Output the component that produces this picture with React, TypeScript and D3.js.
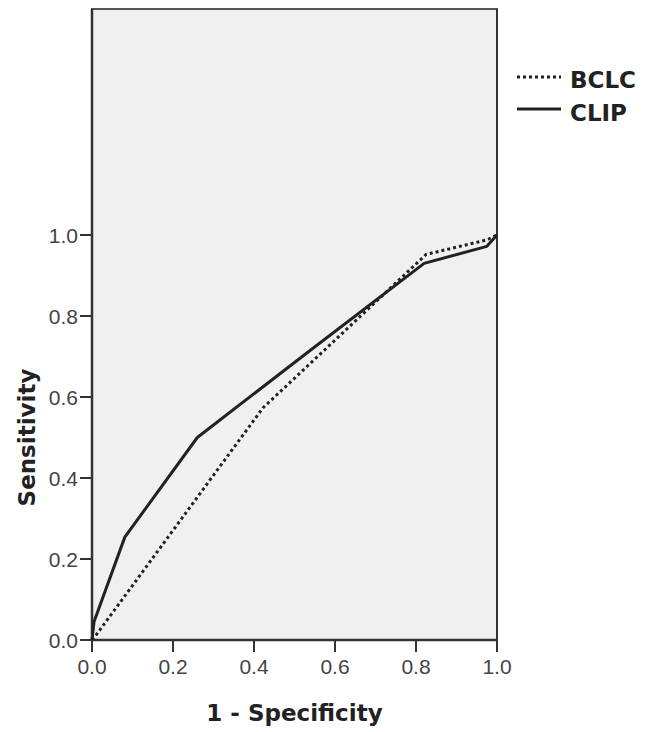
import React from "react";
import * as d3 from "d3";

const xTicks = [0, 0.2, 0.4, 0.6, 0.8, 1.0];
const yTicks = [0, 0.2, 0.4, 0.6, 0.8, 1.0];

const bclcFpr = [0, 0.01, 0.422, 0.825, 0.975, 1.0];
const bclcTpr = [0, 0.012, 0.573, 0.952, 0.988, 1.0];

const clipFpr = [0, 0.005, 0.081, 0.26, 0.54, 0.82, 0.975, 1.0];
const clipTpr = [0, 0.045, 0.254, 0.5, 0.716, 0.93, 0.972, 1.0];

const seriesNames = ["BCLC", "CLIP"];

const W = 650;
const H = 732;
const plotLeft = 92;
const plotRight = 497;
const plotTop = 9;
const plotBottom = 640;

export default function App() {
  const x = d3.scaleLinear().domain([0, 1]).range([plotLeft, plotRight]);
  const y = d3.scaleLinear().domain([0, 1]).range([plotBottom, 235]);
  const line = d3
    .line<[number, number]>()
    .x((d) => x(d[0]))
    .y((d) => y(d[1]));
  const bclc = bclcFpr.map((v, i) => [v, bclcTpr[i]] as [number, number]);
  const clip = clipFpr.map((v, i) => [v, clipTpr[i]] as [number, number]);
  const tickFont = "'Liberation Sans', Arial, sans-serif";
  const boldFont = "'DejaVu Sans', Verdana, sans-serif";
  return (
    <svg
      width={W}
      height={H}
      style={{ position: "absolute", left: 0, top: 0, background: "#fff" }}
    >
      <rect
        x={plotLeft}
        y={plotTop}
        width={plotRight - plotLeft}
        height={plotBottom - plotTop}
        fill="#f0f0f0"
        stroke="#555"
        strokeWidth={2}
      />
      <line x1={plotRight} x2={plotRight} y1={plotTop} y2={plotBottom} stroke="#333" strokeWidth={2} />
      <line x1={plotLeft} x2={plotLeft} y1={plotTop} y2={plotBottom} stroke="#333" strokeWidth={2.5} />
      <line x1={plotLeft} x2={plotRight} y1={plotBottom} y2={plotBottom} stroke="#333" strokeWidth={2.5} />
      {xTicks.map((t) => (
        <g key={"x" + t}>
          <line x1={x(t)} x2={x(t)} y1={plotBottom} y2={plotBottom + 12} stroke="#333" strokeWidth={2} />
          <text
            x={x(t)}
            y={plotBottom + 34}
            textAnchor="middle"
            fontFamily={tickFont}
            fontSize={21}
            fill="#444"
          >
            {t.toFixed(1)}
          </text>
        </g>
      ))}
      {yTicks.map((t) => (
        <g key={"y" + t}>
          <line x1={plotLeft - 12} x2={plotLeft} y1={y(t)} y2={y(t)} stroke="#333" strokeWidth={2} />
          <text
            x={plotLeft - 14}
            y={y(t) + 7.5}
            textAnchor="end"
            fontFamily={tickFont}
            fontSize={21}
            fill="#444"
          >
            {t.toFixed(1)}
          </text>
        </g>
      ))}
      <path d={line(bclc) || ""} fill="none" stroke="#222" strokeWidth={3} strokeDasharray="3,3" />
      <path d={line(clip) || ""} fill="none" stroke="#222" strokeWidth={3} strokeLinejoin="round" />
      <text
        x={(plotLeft + plotRight) / 2}
        y={721}
        textAnchor="middle"
        fontFamily={boldFont}
        fontWeight="bold"
        fontSize={23}
        fill="#222"
      >
        1 - Specificity
      </text>
      <text
        transform={`translate(35, ${(y(0) + y(1)) / 2}) rotate(-90)`}
        textAnchor="middle"
        fontFamily={boldFont}
        fontWeight="bold"
        fontSize={23}
        fill="#222"
      >
        Sensitivity
      </text>
      <g>
        <line x1={517} x2={561} y1={77} y2={77} stroke="#222" strokeWidth={3} strokeDasharray="3,3" />
        <text x={570} y={88} fontFamily={boldFont} fontWeight="bold" fontSize={23} fill="#222">
          {seriesNames[0]}
        </text>
        <line x1={517} x2={561} y1={109} y2={109} stroke="#222" strokeWidth={3} />
        <text x={570} y={121} fontFamily={boldFont} fontWeight="bold" fontSize={23} fill="#222">
          {seriesNames[1]}
        </text>
      </g>
    </svg>
  );
}
